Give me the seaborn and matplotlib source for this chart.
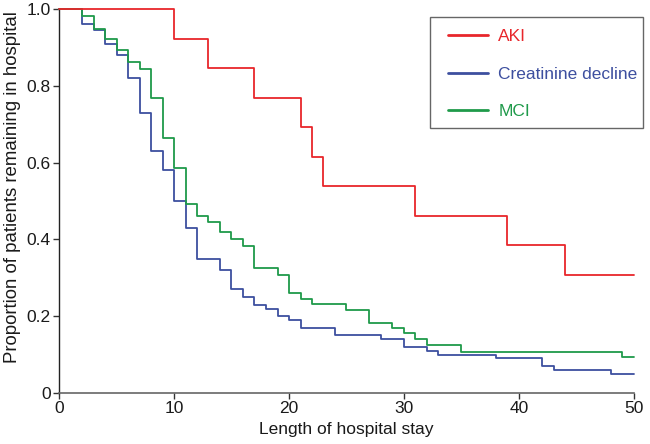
import matplotlib
matplotlib.use("Agg")
import matplotlib.pyplot as plt
from matplotlib.patches import Rectangle
import seaborn as sns
import pandas as pd

# ---- data ----
aki_days = [0, 10, 13, 17, 21, 22, 23, 31, 39, 44, 50]
aki_prop = [1.0, 0.923, 0.846, 0.769, 0.692, 0.615, 0.538, 0.462, 0.385, 0.308, 0.308]

creat_days = [0, 2, 3, 4, 5, 6, 7, 8, 9, 10, 11, 12, 14, 15, 16, 17, 18, 19, 20, 21,
              24, 28, 30, 32, 33, 38, 42, 43, 48, 50]
creat_prop = [1.0, 0.96, 0.945, 0.91, 0.88, 0.82, 0.73, 0.63, 0.58, 0.50, 0.43, 0.35,
              0.32, 0.27, 0.25, 0.23, 0.22, 0.20, 0.19, 0.17, 0.15, 0.14, 0.12, 0.11,
              0.10, 0.09, 0.07, 0.06, 0.05, 0.05]

mci_days = [0, 2, 3, 4, 5, 6, 7, 8, 9, 10, 11, 12, 13, 14, 15, 16, 17, 19, 20, 21,
            22, 25, 27, 29, 30, 31, 32, 35, 49, 50]
mci_prop = [1.0, 0.983, 0.948, 0.923, 0.893, 0.863, 0.845, 0.769, 0.663, 0.585, 0.492,
            0.462, 0.446, 0.418, 0.40, 0.384, 0.325, 0.307, 0.261, 0.245, 0.231, 0.216,
            0.183, 0.170, 0.155, 0.140, 0.125, 0.108, 0.093, 0.093]

groups = ["AKI", "Creatinine decline", "MCI"]
colors = ["#e8262b", "#3d4f9f", "#1f9a4a"]
x_ticks = [0, 10, 20, 30, 40, 50]
y_ticks = [0, 0.2, 0.4, 0.6, 0.8, 1.0]
y_tick_labels = ["0", "0.2", "0.4", "0.6", "0.8", "1.0"]

df = pd.concat([
    pd.DataFrame({"day": aki_days, "prop": aki_prop, "group": groups[0]}),
    pd.DataFrame({"day": creat_days, "prop": creat_prop, "group": groups[1]}),
    pd.DataFrame({"day": mci_days, "prop": mci_prop, "group": groups[2]}),
], ignore_index=True)

sns.set_style("ticks")
plt.rcParams["font.family"] = ["Liberation Sans", "DejaVu Sans"]

W, H = 650, 444
fig = plt.figure(figsize=(W / 100, H / 100), dpi=100)
ax = fig.add_axes([59 / W, 1 - 393 / H, (634 - 59) / W, (393 - 9) / H])

sns.lineplot(data=df, x="day", y="prop", hue="group", hue_order=groups,
             palette=dict(zip(groups, colors)), drawstyle="steps-post",
             errorbar=None, linewidth=1.3, ax=ax)

for ln in ax.lines:
    ln.set_clip_on(False)
ax.lines[0].set_zorder(4)

ax.set_xlim(0, 50)
ax.set_ylim(0, 1.0)
ax.set_xticks(x_ticks)
ax.set_yticks(y_ticks)
ax.set_yticklabels(y_tick_labels)
ax.tick_params(axis="both", labelsize=12.5, length=4, width=1, color="#333333",
               pad=2, labelcolor="#1a1a1a")
ax.set_xlabel("Length of hospital stay", fontsize=12.5, color="#1a1a1a", labelpad=4)
ax.set_ylabel("Proportion of patients remaining in hospital", fontsize=13.4,
              color="#1a1a1a")
ax.yaxis.set_label_coords(-0.066, 0.535)

for s in ["top", "right"]:
    ax.spines[s].set_visible(False)
ax.spines["left"].set_color("#222222")
ax.spines["bottom"].set_color("#666666")
ax.spines["left"].set_linewidth(1)
ax.spines["bottom"].set_linewidth(1.2)

leg = ax.legend(loc="upper left", bbox_to_anchor=(448 / W, 1 - 29 / H),
                bbox_transform=fig.transFigure, borderaxespad=0, borderpad=0,
                fontsize=12.5, frameon=False, handlelength=2.3, handletextpad=0.6,
                labelspacing=1.29, title=None)
for txt, ln in zip(leg.get_texts(), leg.get_lines()):
    txt.set_color(ln.get_color())
    ln.set_linewidth(2)

# legend box
fig.patches.append(Rectangle((430 / W, 1 - 128 / H), (643 - 430) / W, (128 - 17) / H,
                             transform=fig.transFigure, fill=False,
                             edgecolor="#666666", linewidth=1))

fig.savefig("out.png", dpi=100)
